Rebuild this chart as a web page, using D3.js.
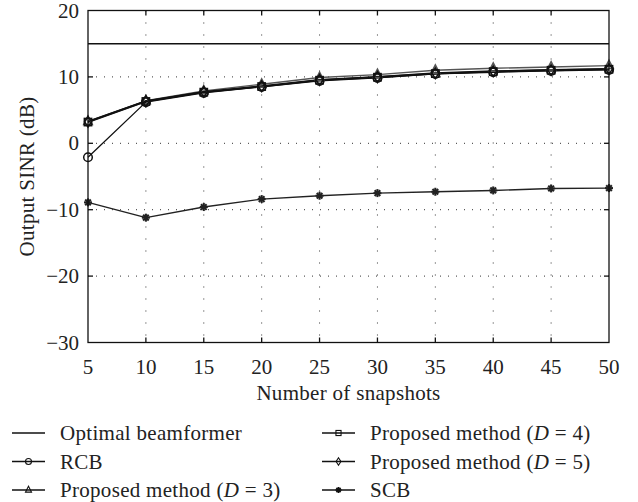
<!DOCTYPE html>
<html lang="en">
<head>
  <meta charset="UTF-8" />
  <title>Output SINR vs number of snapshots</title>
  <script src="https://d3js.org/d3.v7.min.js"></script>
  <style>
    body { margin: 0; background: #fff; }
  </style>
</head>
<body>
  <svg id="chart" width="638" height="502"></svg>
  <script>
    // Datos
    const snapshots = [5, 10, 15, 20, 25, 30, 35, 40, 45, 50];
    const optimal = [15, 15, 15, 15, 15, 15, 15, 15, 15, 15];
    const rcb = [-2.1, 6.2, 7.6, 8.5, 9.4, 9.85, 10.45, 10.7, 10.9, 11.05];
    const propD3 = [3.3, 6.4, 7.9, 8.9, 9.9, 10.35, 11.0, 11.3, 11.5, 11.7];
    const propD4 = [3.2, 6.3, 7.7, 8.55, 9.5, 9.95, 10.5, 10.8, 11.0, 11.15];
    const propD5 = [3.25, 6.35, 7.75, 8.6, 9.55, 10.0, 10.55, 10.85, 11.05, 11.2];
    const scb = [-8.9, -11.2, -9.6, -8.4, -7.9, -7.5, -7.3, -7.1, -6.8, -6.75];
    const xTicks = [5, 10, 15, 20, 25, 30, 35, 40, 45, 50];
    const yTicks = [-30, -20, -10, 0, 10, 20];

    const series = [
      { name: "Optimal beamformer", values: optimal, marker: "none", color: "#111", width: 1.4 },
      { name: "RCB", values: rcb, marker: "circle", color: "#111", width: 1.3 },
      { name: "Proposed method (D = 3)", values: propD3, marker: "triangle", color: "#555", width: 1.4 },
      { name: "Proposed method (D = 4)", values: propD4, marker: "square", color: "#111", width: 1.8 },
      { name: "Proposed method (D = 5)", values: propD5, marker: "diamond", color: "#111", width: 1.8 },
      { name: "SCB", values: scb, marker: "star", color: "#222", width: 1.4 }
    ];

    const FONT = "Liberation Serif, Times New Roman, serif";
    const fs = 21;
    const ls = 0.3;
    const margin = { left: 88, right: 29, top: 10.5, bottom: 159.5 };
    const width = 638, height = 502;
    const svg = d3.select("#chart");

    const x = d3.scaleLinear().domain([5, 50]).range([margin.left, width - margin.right]);
    const y = d3.scaleLinear().domain([-30, 20]).range([height - margin.bottom, margin.top]);

    // Rejilla punteada
    const grid = svg.append("g").attr("stroke", "#333").attr("stroke-width", 1);
    grid.selectAll(".gx").data(xTicks.slice(1, -1)).enter().append("line")
      .attr("x1", d => x(d)).attr("x2", d => x(d))
      .attr("y1", y(20)).attr("y2", y(-30))
      .attr("stroke-dasharray", "1,11");
    grid.selectAll(".gy").data(yTicks.slice(1, -1)).enter().append("line")
      .attr("x1", x(5)).attr("x2", x(50))
      .attr("y1", d => y(d)).attr("y2", d => y(d))
      .attr("stroke-dasharray", "1,7");

    // Marcadores (sin relleno, como en la figura original)
    function drawMarker(g, type, cx, cy, s, color, sw) {
      const m = g.append("g").attr("transform", `translate(${cx},${cy})`)
        .attr("fill", "none").attr("stroke", color).attr("stroke-width", sw);
      if (type === "circle") {
        m.append("circle").attr("r", s);
      } else if (type === "triangle") {
        m.append("path").attr("d", `M0,${-s * 1.25}L${s},${s * 0.7}L${-s},${s * 0.7}Z`);
      } else if (type === "square") {
        m.append("rect").attr("x", -s * 0.85).attr("y", -s * 0.85)
          .attr("width", s * 1.7).attr("height", s * 1.7);
      } else if (type === "diamond") {
        m.append("path").attr("d", `M0,${-s * 1.25}L${s * 0.8},0L0,${s * 1.25}L${-s * 0.8},0Z`);
      } else if (type === "star") {
        [0, 45, 90, 135].forEach(a => {
          const r = a * Math.PI / 180;
          m.append("line")
            .attr("x1", -s * Math.cos(r)).attr("y1", -s * Math.sin(r))
            .attr("x2", s * Math.cos(r)).attr("y2", s * Math.sin(r))
            .attr("stroke-width", sw + 0.6);
        });
      }
    }

    const line = d3.line().x((d, i) => x(snapshots[i])).y(d => y(d));
    const plot = svg.append("g");
    const drawOrder = [0, 2, 5, 1, 3, 4];
    drawOrder.forEach(k => {
      const s = series[k];
      plot.append("path").datum(s.values)
        .attr("fill", "none").attr("stroke", s.color).attr("stroke-width", s.width)
        .attr("stroke-linejoin", "round")
        .attr("d", line);
    });
    drawOrder.forEach(k => {
      const s = series[k];
      if (s.marker === "none") return;
      s.values.forEach((v, i) =>
        drawMarker(plot, s.marker, x(snapshots[i]), y(v), s.marker === "star" ? 4 : 4.3, s.color, 1.5));
    });

    // Marco y marcas interiores
    svg.append("rect")
      .attr("x", x(5)).attr("y", y(20))
      .attr("width", x(50) - x(5)).attr("height", y(-30) - y(20))
      .attr("fill", "none").attr("stroke", "#111").attr("stroke-width", 1.3);

    const ticks = svg.append("g").attr("stroke", "#111").attr("stroke-width", 1.3);
    xTicks.slice(1, -1).forEach(t => {
      ticks.append("line").attr("x1", x(t)).attr("x2", x(t)).attr("y1", y(20)).attr("y2", y(20) + 5);
      ticks.append("line").attr("x1", x(t)).attr("x2", x(t)).attr("y1", y(-30)).attr("y2", y(-30) - 5);
    });
    yTicks.slice(1, -1).forEach(t => {
      ticks.append("line").attr("x1", x(5)).attr("x2", x(5) + 5).attr("y1", y(t)).attr("y2", y(t));
      ticks.append("line").attr("x1", x(50)).attr("x2", x(50) - 5).attr("y1", y(t)).attr("y2", y(t));
    });

    // Etiquetas de ejes
    svg.append("g").selectAll("text").data(xTicks).enter().append("text")
      .attr("x", d => x(d)).attr("y", 374)
      .attr("text-anchor", "middle").attr("font-family", FONT).attr("font-size", fs).attr("fill", "#222")
      .text(d => d);
    svg.append("g").selectAll("text").data(yTicks).enter().append("text")
      .attr("x", x(5) - 9).attr("y", d => y(d) + 7)
      .attr("text-anchor", "end").attr("font-family", FONT).attr("font-size", fs).attr("fill", "#222")
      .text(d => d < 0 ? "\u2212" + Math.abs(d) : d);

    svg.append("text")
      .attr("x", (x(5) + x(50)) / 2).attr("y", 400)
      .attr("text-anchor", "middle").attr("font-family", FONT).attr("font-size", fs)
      .attr("letter-spacing", ls).attr("fill", "#222")
      .text("Number of snapshots");
    svg.append("text")
      .attr("transform", `translate(34,${(y(20) + y(-30)) / 2}) rotate(-90)`)
      .attr("text-anchor", "middle").attr("font-family", FONT).attr("font-size", fs)
      .attr("letter-spacing", ls).attr("fill", "#222")
      .text("Output SINR (dB)");

    // Leyenda
    const legendPos = [
      { x: 12, y: 433 }, { x: 12, y: 461.5 }, { x: 12, y: 490 },
      { x: 322, y: 433 }, { x: 322, y: 461.5 }, { x: 322, y: 490 }
    ];
    const legend = svg.append("g");
    series.forEach((s, i) => {
      const p = legendPos[i];
      legend.append("line").attr("x1", p.x).attr("x2", p.x + 33)
        .attr("y1", p.y).attr("y2", p.y).attr("stroke", "#111").attr("stroke-width", 1.3);
      if (s.marker !== "none") drawMarker(legend, s.marker, p.x + 16.5, p.y, 3, "#111", 1.1);
      const t = legend.append("text").attr("x", p.x + 48).attr("y", p.y + 7)
        .attr("font-family", FONT).attr("font-size", fs).attr("letter-spacing", ls).attr("fill", "#222");
      const m = s.name.match(/^(.*\()D( = \d\))$/);
      if (m) {
        t.append("tspan").text(m[1]);
        t.append("tspan").attr("font-style", "italic").text("D");
        t.append("tspan").text(m[2]);
      } else {
        t.text(s.name);
      }
    });
  </script>
</body>
</html>
